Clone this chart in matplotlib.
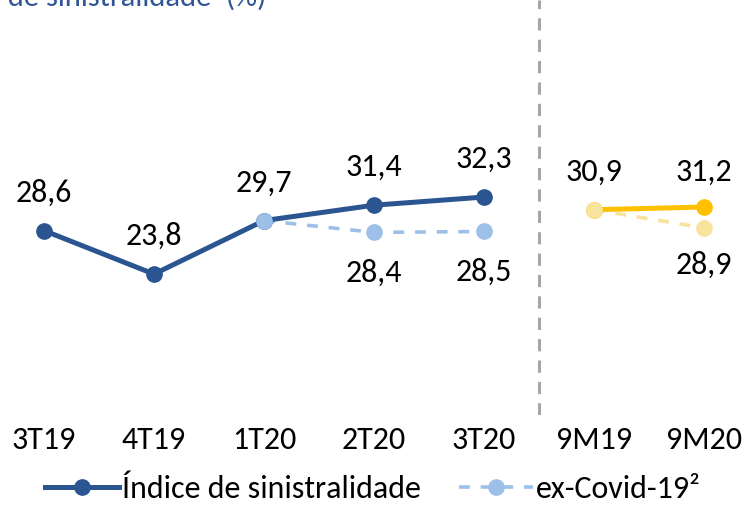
import matplotlib.pyplot as plt

plt.rcParams['font.family'] = ['Carlito', 'DejaVu Sans']

# data
categories = ['3T19', '4T19', '1T20', '2T20', '3T20', '9M19', '9M20']
indice_q = [28.6, 23.8, 29.7, 31.4, 32.3]
excovid_q = [29.7, 28.4, 28.5]
indice_9m = [30.9, 31.2]
excovid_9m = [30.9, 28.9]

dark_blue = '#2A5591'
light_blue = '#9DC0E8'
yellow = '#FFC000'
light_yellow = '#F8E39C'
fs = 23

fig = plt.figure(figsize=(7.46, 5.05), dpi=100)
ax = fig.add_axes([0, 0.178, 1, 0.822])

xq = list(range(len(indice_q)))
xq_ex = xq[2:]
x9 = [5, 6]

ax.plot(xq, indice_q, color=dark_blue, lw=3.6, marker='o', ms=11, zorder=3,
        label='Índice de sinistralidade')
ax.plot(xq_ex, excovid_q, color=light_blue, lw=2.6, ls=(0, (3, 3)), marker='o',
        ms=11, zorder=2, label='ex-Covid-19²')
ax.plot(xq_ex[0], excovid_q[0], 'o', color=light_blue, ms=11, zorder=4)

ax.plot(x9, indice_9m, color=yellow, lw=3.6, marker='o', ms=11, zorder=3)
ax.plot(x9, excovid_9m, color=light_yellow, lw=2.6, ls=(0, (3, 3)), marker='o',
        ms=11, zorder=2)
ax.plot(x9[0], excovid_9m[0], 'o', color=light_yellow, ms=11, zorder=4)


# value labels
def lab(x, v, dy):
    ax.annotate(f'{v:.1f}'.replace('.', ','), (x, v), xytext=(0, dy),
                textcoords='offset pixels', ha='center', va='center',
                fontsize=fs, color='black')


for x, v in zip(xq, indice_q):
    lab(x, v, 38)
for x, v in zip(xq_ex[1:], excovid_q[1:]):
    lab(x, v, -40)
lab(x9[0], indice_9m[0], 38)
lab(x9[1], indice_9m[1], 35)
lab(x9[1], excovid_9m[1], -37)

ax.axvline(4.5, color='#A6A6A6', lw=2.2, ls=(0, (4, 3)))

ax.set_xlim(-0.4, 6.382)
ax.set_ylim(8.24, 54.04)
ax.axis('off')

for i, c in enumerate(categories):
    fig.text((44 + 110 * i) / 746, 1 - 440 / 505, c, ha='center', va='center',
             fontsize=fs)

# title is cropped at the top edge in the original
fig.text(266 / 746, 1 - 6 / 505, 'Índice de sinistralidade¹ (%)', ha='right',
         va='baseline', fontsize=22, color='#2F5597')

ax.legend(loc='center', bbox_to_anchor=(0.5, (1 - 489 / 505 - 0.178) / 0.822),
          ncol=2, frameon=False, fontsize=fs, handlelength=2.3,
          columnspacing=1.2, handletextpad=0.1)

fig.savefig('out.png', dpi=100)
